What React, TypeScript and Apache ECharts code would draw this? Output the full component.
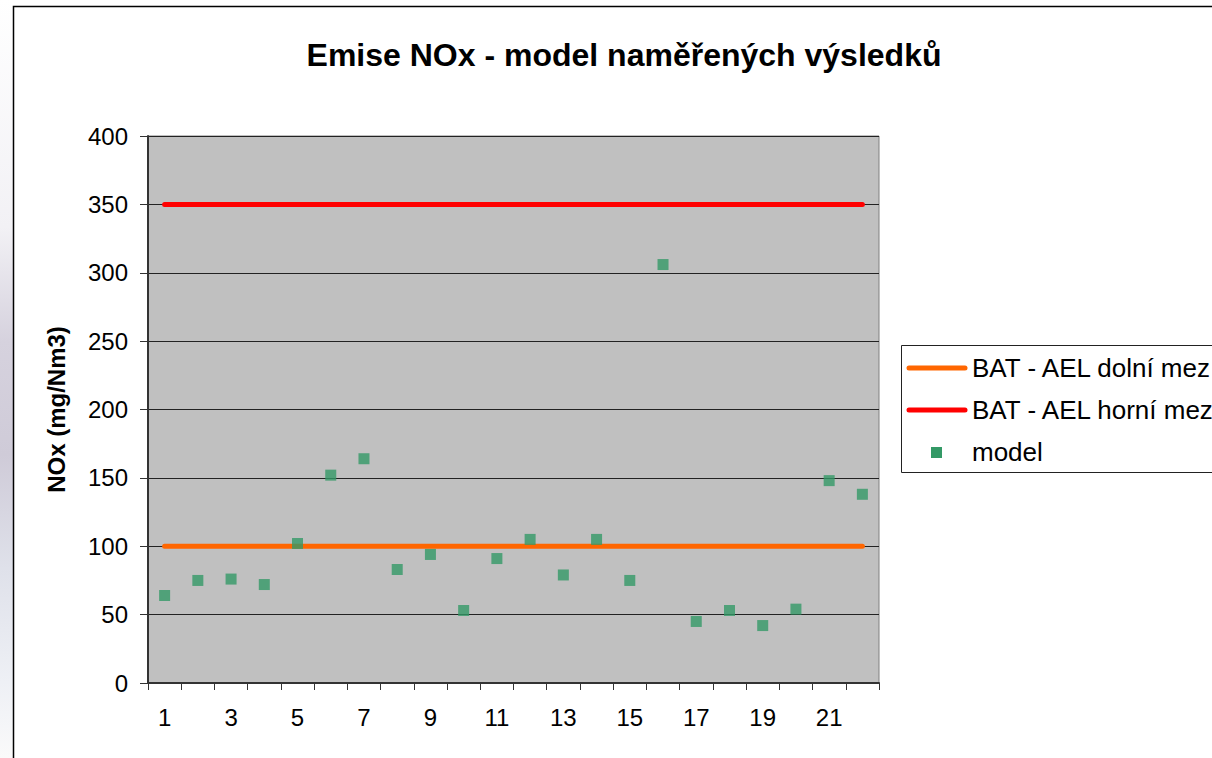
import React, { useEffect, useRef } from "react";
import * as echarts from "echarts";

const categories = ["1","2","3","4","5","6","7","8","9","10","11","12","13","14","15","16","17","18","19","20","21","22"];
const modelValues = [64, 75, 76, 72, 102, 152, 164, 83, 94, 53, 91, 105, 79, 105, 75, 306, 45, 53, 42, 54, 148, 138];
const lowerLimit = [100,100,100,100,100,100,100,100,100,100,100,100,100,100,100,100,100,100,100,100,100,100];
const upperLimit = [350,350,350,350,350,350,350,350,350,350,350,350,350,350,350,350,350,350,350,350,350,350];
const yTicks = { min: 0, max: 400, interval: 50 };
const seriesNames = ["BAT - AEL dolní mez", "BAT - AEL horní mez", "model"];
const seriesColors = ["#FF6600", "#FF0000", "#339966"];

const FONT = "'Liberation Sans', Arial, sans-serif";

export default function App() {
  const ref = useRef<HTMLDivElement>(null);
  useEffect(() => {
    if (!ref.current) return;
    const chart = echarts.init(ref.current, null, { renderer: "svg" });

    const legendX = 901.5;
    const legendY = 345.5;
    const rowY = [368, 410, 452];
    const legendGraphics: any[] = [
      {
        type: "rect",
        z: 20,
        shape: { x: legendX, y: legendY, width: 400, height: 127 },
        style: { fill: "#ffffff", stroke: "#222", lineWidth: 1 },
        silent: true,
      },
    ];
    seriesNames.forEach((name, i) => {
      if (i < 2) {
        legendGraphics.push({
          type: "line",
          z: 21,
          shape: { x1: 909, y1: rowY[i], x2: 965, y2: rowY[i] },
          style: { stroke: seriesColors[i], lineWidth: 5, lineCap: "round" },
          silent: true,
        });
      } else {
        legendGraphics.push({
          type: "rect",
          z: 21,
          shape: { x: 931, y: rowY[i] - 5, width: 11, height: 11 },
          style: { fill: seriesColors[i] },
          silent: true,
        });
      }
      legendGraphics.push({
        type: "text",
        z: 21,
        x: 972,
        y: rowY[i],
        style: {
          text: name,
          fontFamily: FONT,
          fontSize: 26,
          fill: "#000",
          verticalAlign: "middle",
        },
        silent: true,
      });
    });

    chart.setOption({
      animation: false,
      backgroundColor: "#ffffff",
      textStyle: { fontFamily: FONT },
      title: {
        text: "Emise NOx - model naměřených výsledků",
        left: 619,
        top: 34,
        textAlign: "center",
        textStyle: { fontFamily: FONT, fontSize: 32, fontWeight: "bold", color: "#000" },
      },
      graphic: [
        {
          type: "rect",
          z: -10,
          shape: { x: 0, y: 0, width: 13, height: 758 },
          style: {
            fill: new echarts.graphic.LinearGradient(0, 0, 0, 1, [
              { offset: 0, color: "#ffffff" },
              { offset: 0.3, color: "#f2f1f5" },
              { offset: 0.45, color: "#d6d2de" },
              { offset: 0.6, color: "#cfcbd8" },
              { offset: 0.75, color: "#dfe1ea" },
              { offset: 0.9, color: "#eef0f5" },
              { offset: 1, color: "#fafafa" },
            ]),
          },
          silent: true,
        },
        {
          type: "rect",
          z: 10,
          shape: { x: 13.5, y: 6.5, width: 1400, height: 900 },
          style: { fill: "none", stroke: "#000", lineWidth: 1.5 },
          silent: true,
        },
        ...legendGraphics,
      ],
      grid: {
        left: 148,
        top: 136,
        right: 333,
        bottom: 75,
        show: true,
        backgroundColor: "#C0C0C0",
        borderColor: "#808080",
        borderWidth: 1,
      },
      xAxis: {
        type: "category",
        data: categories,
        boundaryGap: true,
        axisLine: { show: true, lineStyle: { color: "#333", width: 2 } },
        axisTick: { show: true, interval: 0, length: 7, lineStyle: { color: "#333", width: 1 } },
        axisLabel: { interval: 1, fontSize: 24, color: "#000", margin: 22, fontFamily: FONT },
        splitLine: { show: false },
      },
      yAxis: {
        type: "value",
        min: yTicks.min,
        max: yTicks.max,
        interval: yTicks.interval,
        name: "NOx (mg/Nm3)",
        nameLocation: "middle",
        nameRotate: 90,
        nameGap: 80,
        nameTextStyle: { fontFamily: FONT, fontSize: 24, fontWeight: "bold", color: "#000" },
        axisLine: { show: true, lineStyle: { color: "#333", width: 2 } },
        axisTick: { show: true, length: 8, lineStyle: { color: "#333", width: 1 } },
        axisLabel: { fontSize: 24, color: "#000", margin: 20, fontFamily: FONT },
        splitLine: { show: true, lineStyle: { color: "#222", width: 1 } },
      },
      series: [
        {
          name: seriesNames[0],
          type: "line",
          data: lowerLimit,
          symbol: "none",
          color: seriesColors[0],
          lineStyle: { color: seriesColors[0], width: 5, cap: "round" },
          z: 2,
        },
        {
          name: seriesNames[1],
          type: "line",
          data: upperLimit,
          symbol: "none",
          color: seriesColors[1],
          lineStyle: { color: seriesColors[1], width: 5, cap: "round" },
          z: 2,
        },
        {
          name: seriesNames[2],
          type: "scatter",
          data: modelValues,
          symbol: "rect",
          symbolSize: 11,
          itemStyle: { color: seriesColors[2] },
          z: 3,
        },
      ],
    });
    return () => chart.dispose();
  }, []);
  return (
    <div
      ref={ref}
      style={{ position: "fixed", left: 0, top: 0, width: 1212, height: 758 }}
    />
  );
}
